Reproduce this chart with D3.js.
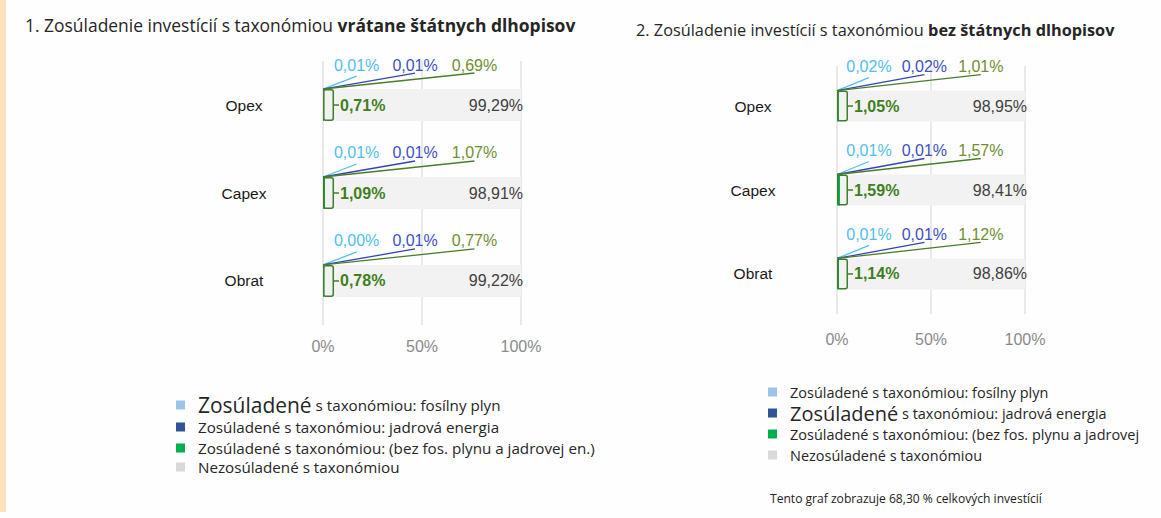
<!DOCTYPE html>
<html>
<head>
<meta charset="utf-8">
<script src="https://cdn.jsdelivr.net/npm/d3@7"></script>
<style>
  body { margin: 0; background: #fefefe; }
  svg { display: block; }
</style>
</head>
<body>
<script>
var w = 1161;
var h = 518;

// categories and series
var categories = ["Opex", "Capex", "Obrat"];
var xTicks = [0, 50, 100];

// 1. vrátane štátnych dlhopisov
var fossilGas1 = [0.01, 0.01, 0.00];
var nuclear1 = [0.01, 0.01, 0.01];
var otherAligned1 = [0.69, 1.07, 0.77];
var alignedTotal1 = [0.71, 1.09, 0.78];
var notAligned1 = [99.29, 98.91, 99.22];

// 2. bez štátnych dlhopisov
var fossilGas2 = [0.02, 0.01, 0.01];
var nuclear2 = [0.02, 0.01, 0.01];
var otherAligned2 = [1.01, 1.57, 1.12];
var alignedTotal2 = [1.05, 1.59, 1.14];
var notAligned2 = [98.95, 98.41, 98.86];

var legendBig = "Zosúladené";
var legendRest1 = [
    " s taxonómiou: fosílny plyn",
    " s taxonómiou: jadrová energia",
    " s taxonómiou: (bez fos. plynu a jadrovej en.)",
    "Nezosúladené s taxonómiou"
];
// the right legend's third line stops at the page edge in the original
var legendRest2 = [
    " s taxonómiou: fosílny plyn",
    " s taxonómiou: jadrová energia",
    " s taxonómiou: (bez fos. plynu a jadrovej",
    "Nezosúladené s taxonómiou"
];
var legendColors = ["#9dc3e6", "#2f5597", "#00b050", "#d9d9d9"];
var noteText = "Tento graf zobrazuje 68,30 % celkových investícií";

var fmt = function(v) { return d3.format(".2f")(v).replace(".", ",") + "%"; };

var svg = d3.select("body")
    .append("svg")
    .attr("width", w)
    .attr("height", h);

// peach stripe on the left edge
svg.append("rect")
    .attr("x", 0).attr("y", 0)
    .attr("width", 6).attr("height", 512)
    .attr("fill", "#fde2bb");

var titleFont = "'Open Sans', sans-serif";
var chartFont = "'Liberation Sans', Arial, sans-serif";

// scale a text's font size so it spans the wanted width
function fitWidth(text, target, base) {
    text.attr("font-size", base);
    var len = text.node().getComputedTextLength();
    var size = base * target / len;
    text.attr("font-size", size);
    return size;
}

function drawTitle(x, y, plain, bold, width) {
    var t = svg.append("text")
        .attr("x", x).attr("y", y)
        .attr("dominant-baseline", "central")
        .attr("font-family", titleFont)
        .attr("fill", "#262626");
    t.append("tspan").text(plain);
    t.append("tspan").attr("font-weight", 700).text(bold);
    fitWidth(t, width, 15);
}

drawTitle(25, 25, "1. Zosúladenie investícií s taxonómiou ", "vrátane štátnych dlhopisov", 551);
drawTitle(636, 30, "2. Zosúladenie investícií s taxonómiou ", "bez štátnych dlhopisov", 479);

function drawChart(cfg, fossil, nuclear, other, total, rest) {
    var g = svg.append("g");

    var xScale = d3.scaleLinear()
        .domain([0, 100])
        .range([cfg.x0, cfg.x1]);

    var yScale = d3.scaleBand()
        .domain(categories)
        .range([cfg.yTop, cfg.yBot])
        .paddingInner(cfg.pi)
        .paddingOuter(cfg.po);

    // grid lines
    g.selectAll(".grid")
        .data(xTicks)
        .enter()
        .append("line")
        .attr("x1", function(d) { return xScale(d); })
        .attr("x2", function(d) { return xScale(d); })
        .attr("y1", cfg.yTop + 4)
        .attr("y2", cfg.yBot - 4)
        .attr("stroke", "#e2e2e2")
        .attr("stroke-width", 1.5);

    // x-axis tick labels
    g.selectAll(".tick")
        .data(xTicks)
        .enter()
        .append("text")
        .attr("x", function(d) { return xScale(d); })
        .attr("y", cfg.tickY)
        .attr("text-anchor", "middle")
        .attr("dominant-baseline", "central")
        .attr("font-family", chartFont)
        .attr("font-size", 16)
        .attr("fill", "#8a8a8a")
        .text(function(d) { return d + "%"; });

    categories.forEach(function(cat, i) {
        var y = yScale(cat);
        var bh = yScale.bandwidth();
        var segs = [fossil[i], nuclear[i], other[i], rest[i]];
        var cols = ["#9dc3e6", "#2f5597", "#00b050", "#f2f2f2"];
        var acc = 0;
        segs.forEach(function(v, k) {
            g.append("rect")
                .attr("x", xScale(acc))
                .attr("y", y)
                .attr("width", xScale(acc + v) - xScale(acc))
                .attr("height", bh)
                .attr("fill", cols[k]);
            acc += v;
        });

        // category label
        g.append("text")
            .attr("x", cfg.catX)
            .attr("y", y + bh / 2)
            .attr("text-anchor", "middle")
            .attr("dominant-baseline", "central")
            .attr("font-family", chartFont)
            .attr("font-size", 15.5)
            .attr("fill", "#1a1a1a")
            .text(cat);

        // bracket round the aligned part
        var bx = xScale(0);
        g.append("rect")
            .attr("x", bx + 0.75)
            .attr("y", y + 0.75)
            .attr("width", 9.5)
            .attr("height", bh - 1.5)
            .attr("rx", 2)
            .attr("fill", "none")
            .attr("stroke", "#3f7f2c")
            .attr("stroke-width", 1.5);
        g.append("line")
            .attr("x1", bx + 10).attr("x2", bx + 16)
            .attr("y1", y + bh / 2).attr("y2", y + bh / 2)
            .attr("stroke", "#3f7f2c")
            .attr("stroke-width", 1.5);
        g.append("text")
            .attr("x", bx + 17)
            .attr("y", y + bh / 2)
            .attr("dominant-baseline", "central")
            .attr("font-family", chartFont)
            .attr("font-size", 16)
            .attr("font-weight", 700)
            .attr("fill", "#3f7f22")
            .text(fmt(total[i]));

        // not aligned value
        g.append("text")
            .attr("x", xScale(100) + 2)
            .attr("y", y + bh / 2)
            .attr("text-anchor", "end")
            .attr("dominant-baseline", "central")
            .attr("font-family", chartFont)
            .attr("font-size", 16)
            .attr("fill", "#404040")
            .text(fmt(rest[i]));

        // callout labels above the bar
        var callouts = [
            { v: fossil[i], at: 17, text: "#4fc0f0", line: "#4fc0f0", dy: 13 },
            { v: nuclear[i], at: 46.5, text: "#3f4fc4", line: "#3444b4", dy: 16 },
            { v: other[i], at: 76.5, text: "#6f8f2f", line: "#4a7d2a", dy: 16 }
        ];
        callouts.forEach(function(c) {
            g.append("line")
                .attr("x1", bx).attr("y1", y)
                .attr("x2", xScale(c.at)).attr("y2", y - c.dy)
                .attr("stroke", c.line)
                .attr("stroke-width", 1.3);
            g.append("text")
                .attr("x", xScale(c.at))
                .attr("y", y - 24)
                .attr("text-anchor", "middle")
                .attr("dominant-baseline", "central")
                .attr("font-family", chartFont)
                .attr("font-size", 16)
                .attr("fill", c.text)
                .text(fmt(c.v));
        });
    });
}

drawChart({ x0: 323, x1: 521, yTop: 57, yBot: 329, pi: 0.636, po: 0.364, catX: 244, tickY: 346 },
    fossilGas1, nuclear1, otherAligned1, alignedTotal1, notAligned1);
drawChart({ x0: 837, x1: 1025, yTop: 62, yBot: 318, pi: 0.631, po: 0.34, catX: 753, tickY: 339 },
    fossilGas2, nuclear2, otherAligned2, alignedTotal2, notAligned2);

// legends: one plain size per legend, one word enlarged
function drawLegend(x, ys, texts, bigIndex, ends) {
    var g = svg.append("g");
    var lines = texts.map(function(txt, i) {
        g.append("rect")
            .attr("x", x)
            .attr("y", ys[i] - 4.5)
            .attr("width", 9).attr("height", 9)
            .attr("fill", legendColors[i]);
        var t = g.append("text")
            .attr("x", x + 22)
            .attr("y", ys[i])
            .attr("dominant-baseline", "central")
            .attr("font-family", titleFont)
            .attr("fill", "#262626");
        if (i < 3) {
            t.append("tspan")
                .attr("font-size", i === bigIndex ? "1.38em" : "1em")
                .text(legendBig);
        }
        t.append("tspan").text(txt);
        return t;
    });

    var sizes = [];
    lines.forEach(function(t, i) {
        if (i !== bigIndex && ends[i] !== null) {
            sizes.push(fitWidth(t, ends[i] - (x + 22), 13));
        }
    });
    var plain = d3.mean(sizes);
    lines.forEach(function(t) { t.attr("font-size", plain); });
}

drawLegend(176, [405, 427, 448, 467], legendRest1, 0, [483, 498, 600, 398]);
drawLegend(768, [392, 413, 434, 455], legendRest2, 1, [1062, 1088, null, 972]);

svg.append("text")
    .attr("x", 770)
    .attr("y", 498)
    .attr("dominant-baseline", "central")
    .attr("font-family", titleFont)
    .attr("fill", "#222")
    .text(noteText)
    .call(function(t) { fitWidth(t, 272, 11); });
</script>
</body>
</html>
